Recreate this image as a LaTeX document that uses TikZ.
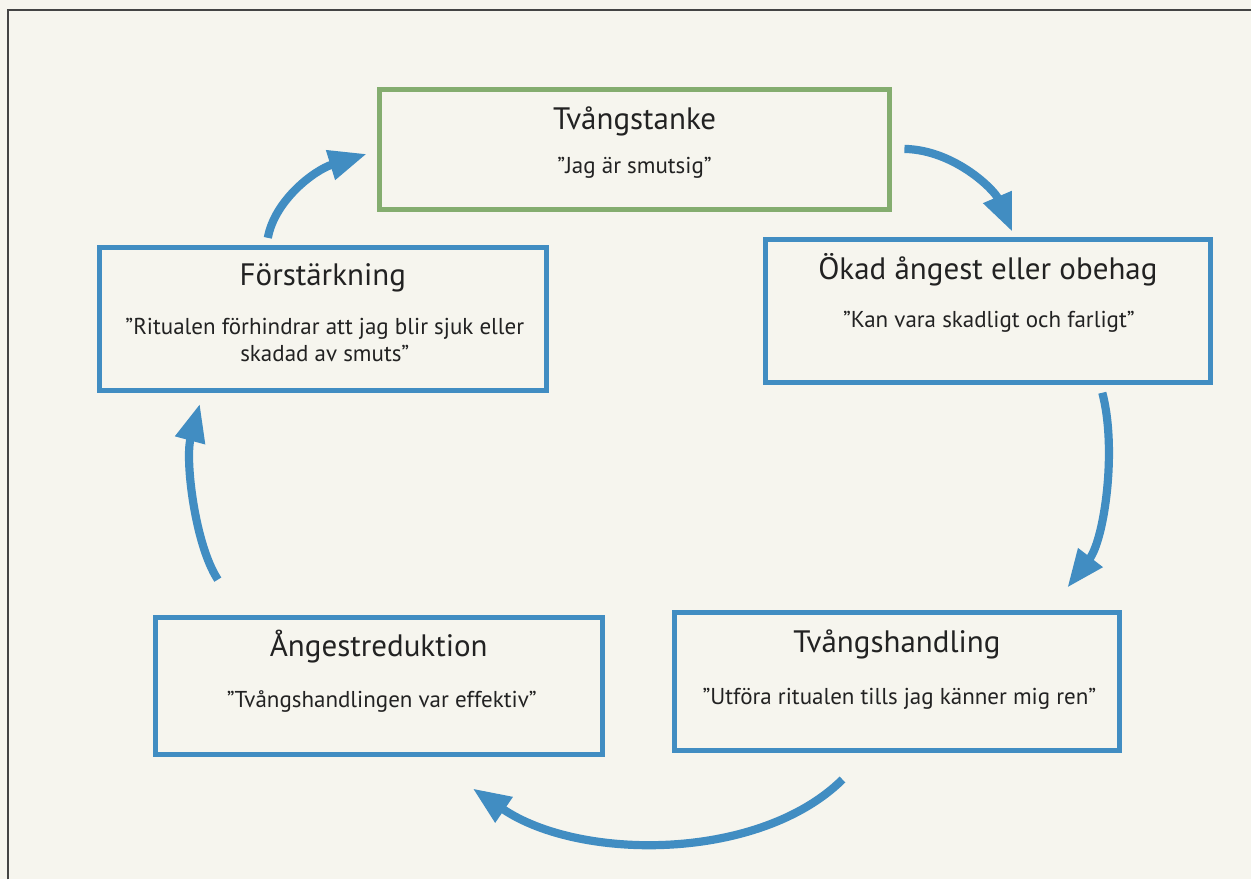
\documentclass[tikz,border=0pt]{standalone}
\usepackage{fontspec}
\setmainfont{PT Sans}
\usetikzlibrary{arrows.meta}
\definecolor{bg}{HTML}{F6F5EE}
\definecolor{boxblue}{HTML}{418DC2}
\definecolor{boxgreen}{HTML}{84AD6F}
\definecolor{txt}{HTML}{222222}
\definecolor{frame}{HTML}{444444}
\begin{document}
\begin{tikzpicture}[x=0.5pt,y=-0.5pt,
  box/.style={draw=boxblue, line width=2.5pt, inner sep=0pt, outer sep=0pt, rectangle},
  greenbox/.style={box, draw=boxgreen},
  title/.style={anchor=base, text=txt, font=\fontsize{15.5pt}{18pt}\selectfont, inner sep=0pt},
  sub/.style={anchor=base, text=txt, font=\fontsize{11.5pt}{13.5pt}\selectfont, inner sep=0pt, align=center},
  flow/.style={draw=boxblue, line width=4.1pt, -{Triangle[length=19pt,width=14.5pt]}}
]
\fill[bg] (0,0) rectangle (1252,880);
\draw[frame, line width=0.8pt] (8,880) -- (8,10) -- (1252,10);

% boxes
\node[greenbox, minimum width=255.5pt, minimum height=60pt] (tank) at (635,149.5) {};
\node[box, minimum width=223pt, minimum height=71.5pt] (okad) at (988.5,311) {};
\node[box, minimum width=223.5pt, minimum height=71.5pt] (fors) at (323,319) {};
\node[box, minimum width=223.5pt, minimum height=68.5pt] (ang) at (379,686) {};
\node[box, minimum width=223pt, minimum height=69pt] (handl) at (897.5,681.5) {};

% texts
\node[title] (tankT) at (635,130) {Tvångstanke};
\node[sub] (tankS) at (635,174) {”Jag är smutsig”};
\node[title] (okadT) at (988.5,280) {Ökad ångest eller obehag};
\node[sub] (okadS) at (989.5,328) {”Kan vara skadligt och farligt”};
\node[title] (forsT) at (323,286) {Förstärkning};
\node[sub] (forsS1) at (325,335) {”Ritualen förhindrar att jag blir sjuk eller};
\node[sub] (forsS2) at (325,362) {skadad av smuts”};
\node[title] (angT) at (379,657) {Ångestreduktion};
\node[sub] (angS) at (382,708) {”Tvångshandlingen var effektiv”};
\node[title] (handlT) at (897.5,653) {Tvångshandling};
\node[sub] (handlS) at (900,705) {”Utföra ritualen tills jag känner mig ren”};

% connector end points
\coordinate (a1s) at (905,149);
\coordinate (a1e) at (1013,232);
\coordinate (a2s) at (1103,393);
\coordinate (a2e) at (1068,588);
\coordinate (a3s) at (843,780);
\coordinate (a3e) at (473,789);
\coordinate (a4s) at (218,580);
\coordinate (a4e) at (200,404);
\coordinate (a5s) at (268,238);
\coordinate (a5e) at (367,154);

\draw[flow] (a1s) .. controls (955,150) and (995,190) .. (a1e);
\draw[flow] (a2s) .. controls (1118,450) and (1105,540) .. (a2e);
\draw[flow] (a3s) .. controls (760,862) and (580,862) .. (a3e);
\draw[flow] (a4s) .. controls (195,545) and (185,460) .. (a4e);
\draw[flow] (a5s) .. controls (275,200) and (315,170) .. (a5e);
\end{tikzpicture}
\end{document}
